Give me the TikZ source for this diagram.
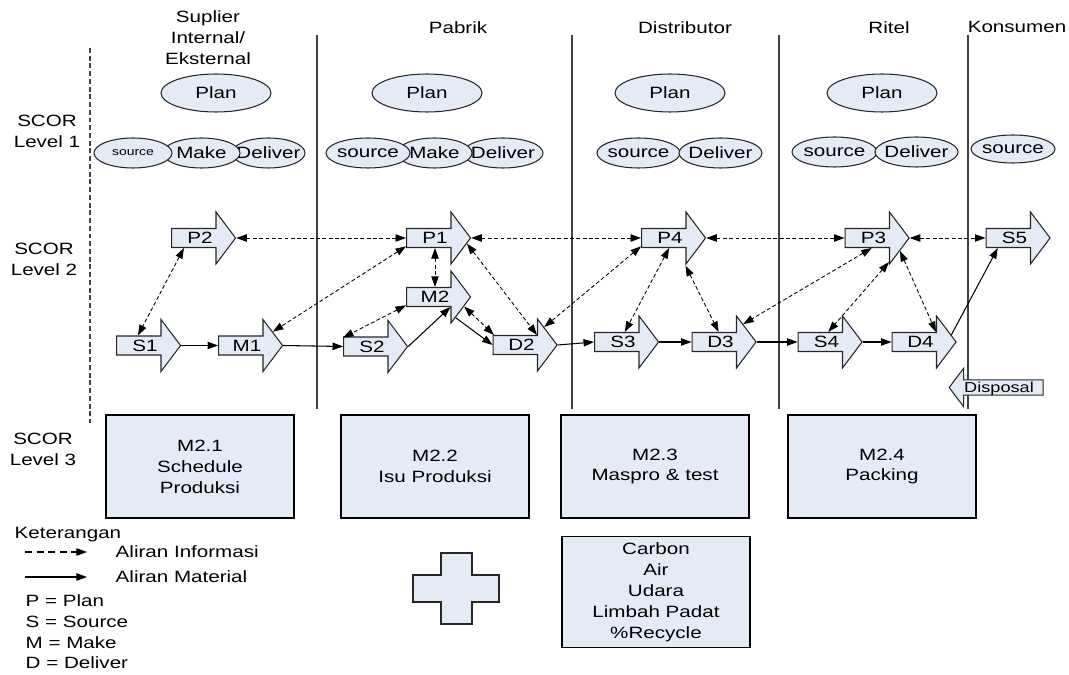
\documentclass[tikz,border=0pt]{standalone}
\usepackage{fontspec}
\setmainfont{Liberation Sans}[FakeStretch=1.26]
\usepackage{xcolor}
\usepackage{tikz}
\usetikzlibrary{math,calc,shapes.geometric,shapes.arrows,arrows.meta}
\definecolor{isi}{RGB}{229,235,246}
\newcommand\hrf{\fontsize{9.3}{11.9}\selectfont}
\newcommand\tx[1]{\makebox[0pt]{#1}}

\begin{document}
\begin{tikzpicture}[x=0.02cm,y=-0.02cm,font=\hrf,
	elip/.style={ellipse,draw=black!85,fill=isi,line width=0.6pt,inner sep=0pt,minimum width=1.66cm,minimum height=0.6cm},
	rencana/.style={elip,minimum width=2.2cm,minimum height=0.76cm},
	panah/.style={single arrow,draw=black!85,fill=isi,line width=0.6pt,single arrow head extend=0.33cm,single arrow tip angle=106,minimum height=1.28cm,text height=6.6pt,text depth=0pt,inner xsep=1pt,inner ysep=1.82pt},
	kotak/.style={rectangle,draw=black,fill=isi,line width=0.7pt,minimum width=3.76cm,minimum height=2.06cm,align=center},
	info/.style={line width=0.5pt,dash pattern=on 2.2pt off 1.4pt,{Triangle[length=6pt,width=4.2pt]}-{Triangle[length=6pt,width=4.2pt]}},
	material/.style={line width=0.6pt,-{Triangle[length=6pt,width=4.2pt]}},
	garis/.style={draw=black!75,line width=0.7pt}]
\useasboundingbox (0,0) rectangle (1069,675);
\tikzmath{
	\yp = 238;\ym = 297;\ys = 344;
	\ya = 93;\yb = 153;
	\yt = 35;\yu = 409;
	{\draw[garis,dash pattern=on 2.8pt off 1.6pt] (90,48) -- (90,423);};
	{\draw[garis] (317,\yt) -- (317,\yu);};
	{\draw[garis] (572,\yt) -- (572,\yu);};
	{\draw[garis] (779,\yt) -- (779,\yu);};
	{\draw[garis] (968,\yt) -- (968,\yu);};
	%
	{\node[align=center] (sup) at (208,38) {Suplier\\Internal/\\Eksternal};};
	{\node (pab) at (458,28) {Pabrik};};
	{\node (dis) at (685,28) {Distributor};};
	{\node (rit) at (889,28) {Ritel};};
	{\node (kon) at (1017,27) {Konsumen};};
	{\node[align=center] (lv1) at (47,131) {SCOR\\Level 1};};
	{\node[align=center] (lv2) at (44,259) {SCOR\\Level 2};};
	{\node[align=center] (lv3) at (43,449) {SCOR\\Level 3};};
	%
	{\node[rencana] (pl1) at (216,\ya) {Plan};};
	{\node[elip,minimum width=1.46cm] (dl1) at (268.5,\yb) {\tx{Deliver}};};
	{\node[elip,minimum width=1.54cm] (mk1) at (201.5,\yb) {\tx{Make}};};
	{\node[elip,minimum width=1.56cm] (sr1) at (133,\yb) {\tx{\fontsize{6.3}{8}\selectfont source}};};
	{\node[rencana] (pl2) at (427,\ya) {Plan};};
	{\node[elip,minimum width=1.6cm] (dl2) at (503,\yb) {\tx{Deliver}};};
	{\node[elip,minimum width=1.5cm] (mk2) at (434.5,\yb) {\tx{Make}};};
	{\node[elip,minimum width=1.68cm] (sr2) at (368,\yb) {\tx{source}};};
	{\node[rencana] (pl3) at (670,\ya) {Plan};};
	{\node[elip] (sr3) at (638.5,\yb) {\tx{source}};};
	{\node[elip] (dl3) at (720.5,\yb) {\tx{Deliver}};};
	{\node[rencana] (pl4) at (882,\ya) {Plan};};
	{\node[elip,minimum width=1.7cm] (sr4) at (834.5,\yb-1) {\tx{source}};};
	{\node[elip] (dl4) at (916.5,\yb-1) {\tx{Deliver}};};
	{\node[elip,minimum width=1.68cm,minimum height=0.56cm] (sr5) at (1013,\yb-4) {\tx{source}};};
	%
	{\node[panah] (p2) at (200,\yp) {P2};};
	{\node[panah] (p1) at (435,\yp) {P1};};
	{\node[panah] (p4) at (670,\yp) {P4};};
	{\node[panah] (p3) at (873.5,\yp) {P3};};
	{\node[panah] (s5) at (1014.5,\yp) {S5};};
	{\node[panah] (m2) at (435,\ym) {M2};};
	{\node[panah] (s1) at (145,\ys+1.5) {S1};};
	{\node[panah] (m1) at (247,\ys+1.5) {M1};};
	{\node[panah] (s2) at (372,\ys+2.5) {S2};};
	{\node[panah] (d2) at (521.5,\ys+1) {D2};};
	{\node[panah] (s3) at (623,\ys-2) {S3};};
	{\node[panah] (d3) at (720.5,\ys-2) {D3};};
	{\node[panah] (s4) at (826.5,\ys-2) {S4};};
	{\node[panah] (d4) at (920.5,\ys-2) {D4};};
	{\node[panah,shape border rotate=180,single arrow head extend=0.23cm,minimum height=1.88cm,text height=5.8pt,inner ysep=1.1pt,font=\fontsize{8.2}{10}\selectfont] (dsp) at (999,387.5) {Disposal};};
	%
	{\draw[info] (p2.tip) -- (p1.tail);};
	{\draw[info] (p1.tip) -- (p4.tail);};
	{\draw[info] (p4.tip) -- (p3.tail);};
	{\draw[info] (p3.tip) -- (s5.tail);};
	{\draw[info] (p2.-148) -- (s1.125);};
	{\draw[info] (p1.-164) -- ($(m1.before tip)!0.5!(m1.tip)$);};
	{\draw[info] (p1.-90) -- (m2.90);};
	{\draw[info] (m2.-164) -- (s2.163);};
	{\draw[info] (p1.-10) -- (d2.before head);};
	{\draw[info] (m2.-18) -- (d2.160);};
	{\draw[info] (p4.-164) -- ($(d2.before tip)!0.35!(d2.tip)$);};
	{\draw[info] (p4.-95) -- (s3.80);};
	{\draw[info] (p4.after tip) -- (d3.100);};
	{\draw[info] (p3.-100) -- ($(d3.before tip)!0.35!(d3.tip)$);};
	{\draw[info] ($(p3.after head)!0.8!(p3.after tip)$) -- (s4.80);};
	{\draw[info] (p3.-26) -- (d4.before head);};
	%
	{\draw[material] (s1.tip) -- (m1.tail);};
	{\draw[material] (m1.tip) -- (s2.tail);};
	{\draw[material] (s2.tip) -- (m2.after head);};
	{\draw[material] ($(m2.after tip)!0.25!(m2.tip)$) -- (d2.tail);};
	{\draw[material] (d2.tip) -- (s3.tail);};
	{\draw[material] (s3.tip) -- (d3.tail);};
	{\draw[material] (d3.tip) -- (s4.tail);};
	{\draw[material] (s4.tip) -- (d4.tail);};
	{\draw[material] (d4.13) -- (s5.-149);};
	%
	{\node[kotak] (m21) at (200,466.5) {M2.1\\Schedule\\Produksi};};
	{\node[kotak] (m22) at (435,466.5) {M2.2\\Isu Produksi};};
	{\node[kotak] (m23) at (655,466.5) {M2.3\\Maspro \& test};};
	{\node[kotak] (m24) at (882,466.5) {M2.4\\Packing};};
	{\node[kotak] (env) at (656,592) {Carbon\\Air\\Udara\\Limbah Padat\\\%Recycle};};
	{\draw[draw=black!85,fill=isi,line width=0.6pt] (441,553) -- (472,553) -- (472,575) -- (499,575) -- (499,602) -- (472,602) -- (472,624) -- (441,624) -- (441,602) -- (413,602) -- (413,575) -- (441,575) -- cycle;};
	%
	{\node[anchor=west] (ket) at (8.5,535) {Keterangan};};
	{\coordinate (ia) at (25,552);};
	{\coordinate (ib) at (87,552);};
	{\coordinate (ma) at (25,577);};
	{\coordinate (mb) at (87,577);};
	{\draw[line width=0.6pt,dash pattern=on 4pt off 2.6pt,-{Triangle[length=6pt,width=4.2pt]}] (ia) -- (ib);};
	{\draw[material] (ma) -- (mb);};
	{\node[anchor=west] (inf) at (109.5,552) {Aliran Informasi};};
	{\node[anchor=west] (mat) at (109.5,577) {Aliran Material};};
	{\node[anchor=west] (kp) at (19.5,601) {P = Plan};};
	{\node[anchor=west] (ks) at (19.5,622) {S = Source};};
	{\node[anchor=west] (km) at (19.5,643) {M = Make};};
	{\node[anchor=west] (kd) at (19.5,663) {D = Deliver};};
};
\end{tikzpicture}
\end{document}
